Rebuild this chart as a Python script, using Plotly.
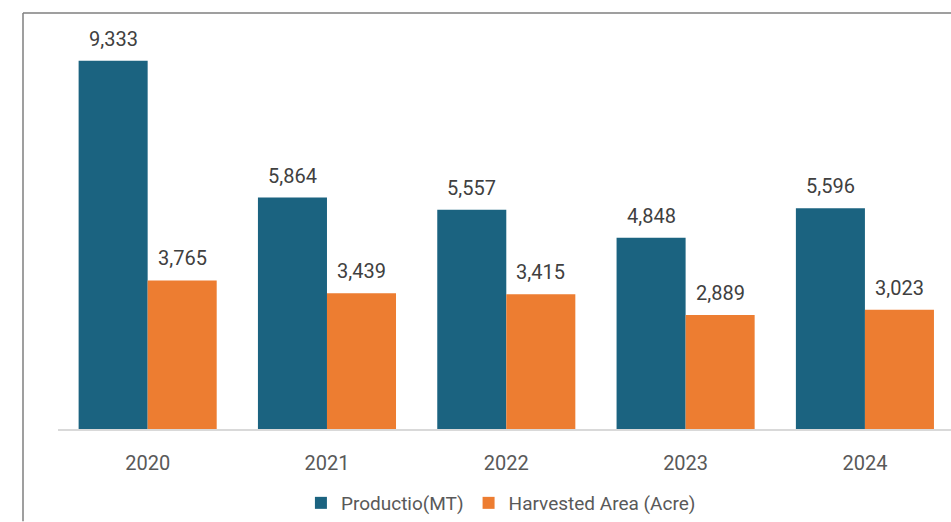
import plotly.graph_objects as go

# Yearly figures
years = ["2020", "2021", "2022", "2023", "2024"]
production_mt = [9333, 5864, 5557, 4848, 5596]
harvested_acre = [3765, 3439, 3415, 2889, 3023]

series_names = ["Productio(MT)", "Harvested Area (Acre)"]
colors = ["#1b6380", "#ed7d31"]

W, H = 951, 522
M_L, M_R, M_T, M_B = 23, 0, 13, 89
plot_h = H - M_T - M_B
y_top = 10540
bar_gap = 0.23
FONT = "Roboto, Arial, sans-serif"

fig = go.Figure()
for name, vals, col in zip(series_names, [production_mt, harvested_acre], colors):
    fig.add_trace(go.Bar(
        x=years, y=vals, name=name,
        marker=dict(color=col, line=dict(width=0)),
        hoverinfo="x+y",
    ))

# Value labels above each bar (category index as x position)
cat_px = (W - M_L - 35) / 4.98
half_bar = cat_px * (1 - bar_gap) / 4
label_font = dict(family=FONT, size=20, color="#404040")
for vals, shift in [(production_mt, -half_bar), (harvested_acre, half_bar)]:
    for i, v in enumerate(vals):
        fig.add_annotation(
            x=i, y=v, xref="x", yref="y", text=f"{v:,}", showarrow=False,
            xshift=shift, yshift=22, yanchor="middle",
            font=label_font,
        )

# Outer frame lines on the top and left
border = dict(color="#7f7f7f", width=1.5)
fig.add_shape(type="line", xref="paper", yref="paper", x0=0, x1=1.01, y0=1, y1=1, line=border)
fig.add_shape(type="line", xref="paper", yref="paper", x0=0, x1=0, y0=1, y1=-M_B / plot_h - 0.01, line=border)

fig.update_layout(
    width=W, height=H,
    margin=dict(l=M_L, r=M_R, t=M_T, b=M_B),
    paper_bgcolor="white", plot_bgcolor="white",
    barmode="group", bargap=bar_gap, bargroupgap=0,
    font=dict(family=FONT, size=19, color="#595959"),
    xaxis=dict(
        type="category",
        domain=[35 / (W - M_L), 1],
        range=[-0.5, 4.48],
        showline=True, linecolor="#d9d9d9", linewidth=2,
        ticks="outside", ticklen=15, tickcolor="rgba(0,0,0,0)",
        tickfont=dict(size=20, color="#595959"),
        showgrid=False, zeroline=False, fixedrange=True,
    ),
    yaxis=dict(
        range=[0, y_top], visible=False, showgrid=False, zeroline=False,
    ),
    legend=dict(
        orientation="h", x=0.515, xanchor="center",
        y=-75 / plot_h, yanchor="middle",
        font=dict(size=19, color="#595959"),
        itemwidth=30, traceorder="normal",
    ),
    showlegend=True,
)

fig.write_html("out.html")
